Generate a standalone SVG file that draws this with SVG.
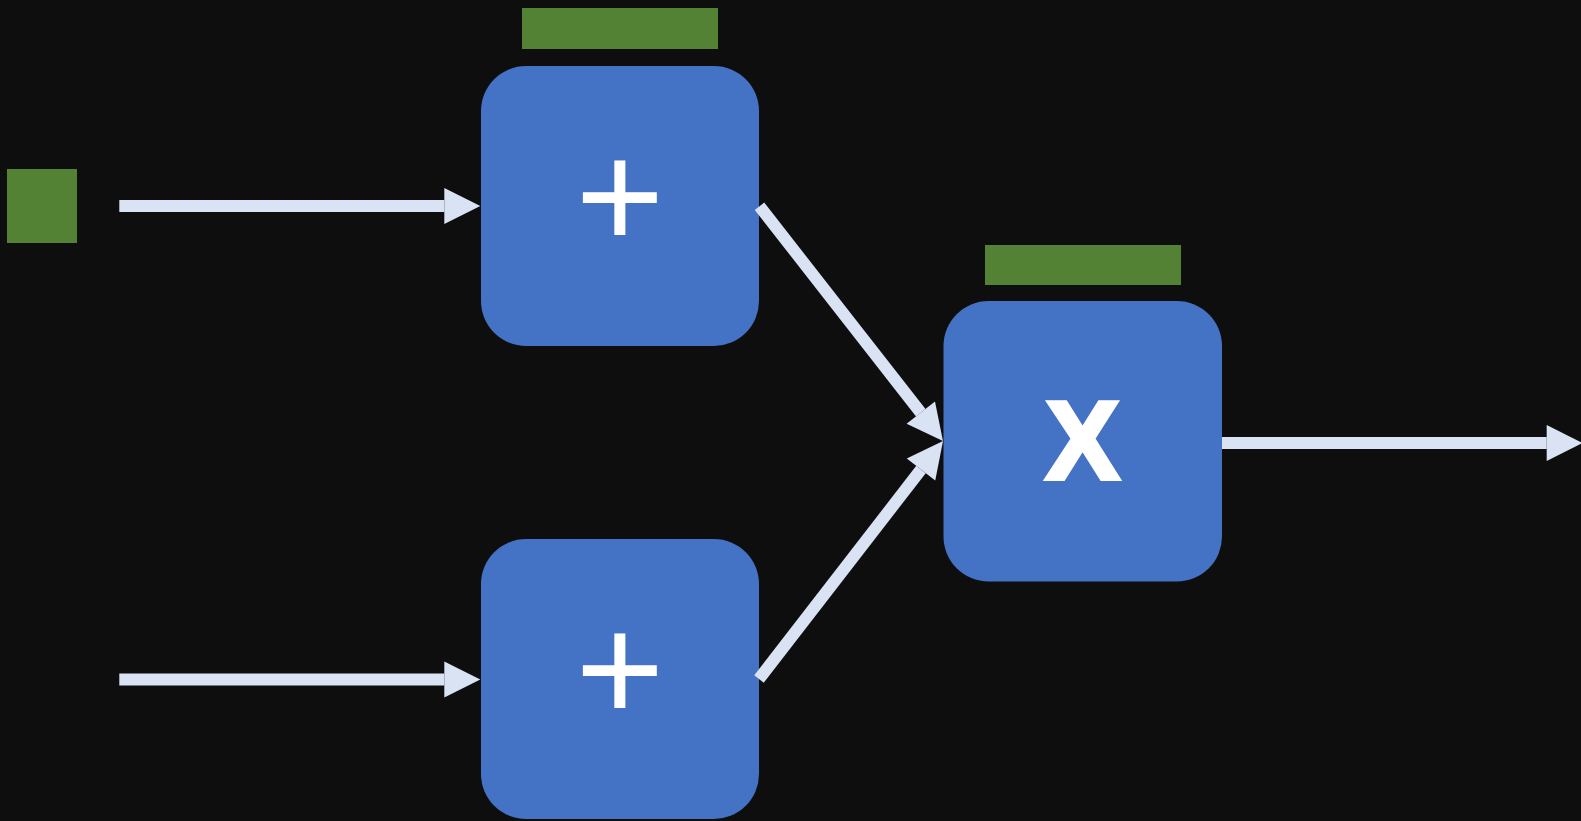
<svg xmlns="http://www.w3.org/2000/svg" width="1581" height="821" viewBox="0 0 1581 821">
<style>
.node{fill:#4472c4}
.tag{fill:#548235}
.conn{stroke:#dae3f3;stroke-width:12;fill:none;marker-end:url(#ah)}
.op{fill:#ffffff;font-family:"Liberation Sans",Arial,sans-serif;text-anchor:middle}
.bold{font-weight:700;stroke:#ffffff;stroke-width:4;stroke-linejoin:miter}
</style>
<defs>
<marker id="ah" markerUnits="strokeWidth" markerWidth="3" markerHeight="3" refX="0" refY="1.5" orient="auto" overflow="visible">
<path d="M0,0 L3,1.5 L0,3 Z" fill="#dae3f3"/>
</marker>
</defs>
<rect width="1581" height="821" fill="#0e0e0e"/>
<g id="input-tag"><rect class="tag" x="7" y="169" width="70" height="74"/></g>
<g id="add-top">
<rect class="tag" x="522" y="8" width="196" height="41"/>
<rect class="node" x="481" y="66" width="278" height="280" rx="45"/>
<text class="op" x="620" y="248" font-size="152">+</text>
</g>
<g id="add-bottom">
<rect class="node" x="481" y="539" width="278" height="280" rx="45"/>
<text class="op" x="620" y="721" font-size="152">+</text>
</g>
<g id="multiply">
<rect class="tag" x="985" y="245" width="196" height="40"/>
<rect class="node" x="943.5" y="301" width="278.5" height="280.5" rx="45"/>
<text class="op bold" x="1082.5" y="479" font-size="111">X</text>
</g>
<g id="connectors">
<line class="conn" x1="119.3" y1="206" x2="444.3" y2="206"/>
<line class="conn" x1="119.3" y1="679.5" x2="444.3" y2="679.5"/>
<line class="conn" x1="759.5" y1="206.3" x2="920.8" y2="412.7"/>
<line class="conn" x1="759" y1="679" x2="921" y2="469.5"/>
<line class="conn" x1="1222" y1="443" x2="1546.7" y2="443"/>
</g>
</svg>
